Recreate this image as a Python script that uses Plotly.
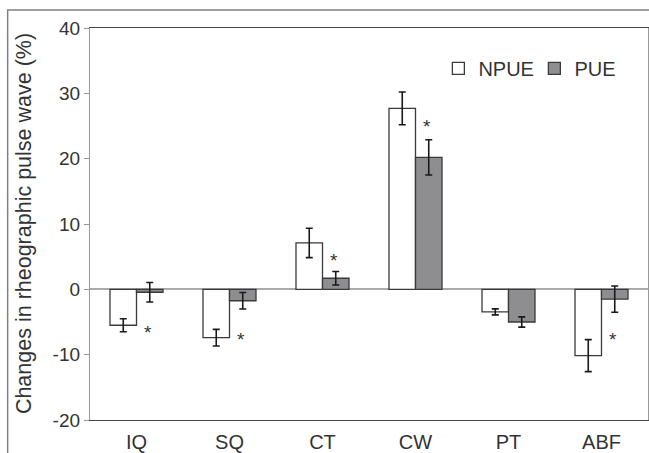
import plotly.graph_objects as go

categories = ["IQ", "SQ", "CT", "CW", "PT", "ABF"]
npue = [-5.5, -7.4, 7.1, 27.7, -3.45, -10.15]
npue_err = [1.0, 1.27, 2.25, 2.5, 0.46, 2.45]
pue = [-0.45, -1.75, 1.7, 20.2, -5.0, -1.5]
pue_err = [1.5, 1.27, 1.04, 2.7, 0.78, 2.0]
sig_y = [-6.0, -7.1, 5.1, 25.6, None, -7.1]   # '*' marker heights
y_ticks = [-20, -10, 0, 10, 20, 30, 40]
y_tick_labels = ["-20", "-10", "0", "10", "20", "30", "40"]

FONT = "Liberation Sans, Arial, sans-serif"
TXT = "#333333"

W, H = 649, 453
ML, MR, MT, MB = 90, 0, 28, 31
PW, PH = W - ML - MR, H - MT - MB

fig = go.Figure()
fig.add_trace(go.Bar(
    name="NPUE", x=categories, y=npue,
    marker=dict(color="white", line=dict(color="#3a3a3a", width=1.3)),
    error_y=dict(type="data", array=npue_err, color="#1a1a1a", thickness=1.6, width=3.5),
))
fig.add_trace(go.Bar(
    name="PUE", x=categories, y=pue,
    marker=dict(color="#8e8e90", line=dict(color="#3a3a3a", width=1.3)),
    error_y=dict(type="data", array=pue_err, color="#1a1a1a", thickness=1.6, width=3.5),
))

for c, v in zip(categories, sig_y):
    if v is None:
        continue
    fig.add_annotation(x=c, y=v, text="*", showarrow=False, xshift=11, yshift=-4,
                       font=dict(family=FONT, size=19, color=TXT))

fig.add_annotation(text="Changes in rheographic pulse wave (%)", textangle=-90,
                   xref="paper", yref="paper", x=(24 - ML) / PW, y=0.5,
                   xanchor="center", yanchor="middle", showarrow=False,
                   font=dict(family=FONT, size=21.5, color=TXT))

# outer frame
fig.add_shape(type="rect", xref="paper", yref="paper",
              x0=(7.5 - ML) / PW, x1=1.2, y0=-0.3, y1=1 + (MT - 10) / PH,
              line=dict(color="#808080", width=1.5), fillcolor="rgba(0,0,0,0)", layer="below")

fig.update_layout(
    width=W, height=H,
    margin=dict(l=ML, r=MR, t=MT, b=MB),
    paper_bgcolor="white", plot_bgcolor="white",
    barmode="group", bargap=0.43, bargroupgap=0,
    font=dict(family=FONT, color=TXT),
    showlegend=True,
    legend=dict(orientation="h", x=(439 - ML) / PW, y=1 - (49 - MT) / PH,
                xanchor="left", yanchor="top", entrywidth=51,
                font=dict(family=FONT, size=20, color=TXT), bgcolor="rgba(0,0,0,0)",
                itemclick=False, traceorder="normal"),
    xaxis=dict(showline=True, linecolor="#444444", linewidth=1.3, mirror=True,
               ticks="outside", ticklen=4, tickcolor="rgba(0,0,0,0)",
               tickfont=dict(family=FONT, size=20, color=TXT), showgrid=False),
    yaxis=dict(range=[-20, 40], tickvals=y_ticks, ticktext=y_tick_labels,
               ticks="outside", ticklen=5, tickcolor="#999999",
               showline=True, linecolor="#999999", linewidth=1.3, mirror=True,
               showgrid=False, zeroline=True, zerolinecolor="#aaaaaa", zerolinewidth=1.5,
               tickfont=dict(family=FONT, size=19, color=TXT)),
)

fig.write_html("out.html", config={"displayModeBar": False},
               post_script="document.body.style.margin='0';document.body.style.overflow='hidden';")
